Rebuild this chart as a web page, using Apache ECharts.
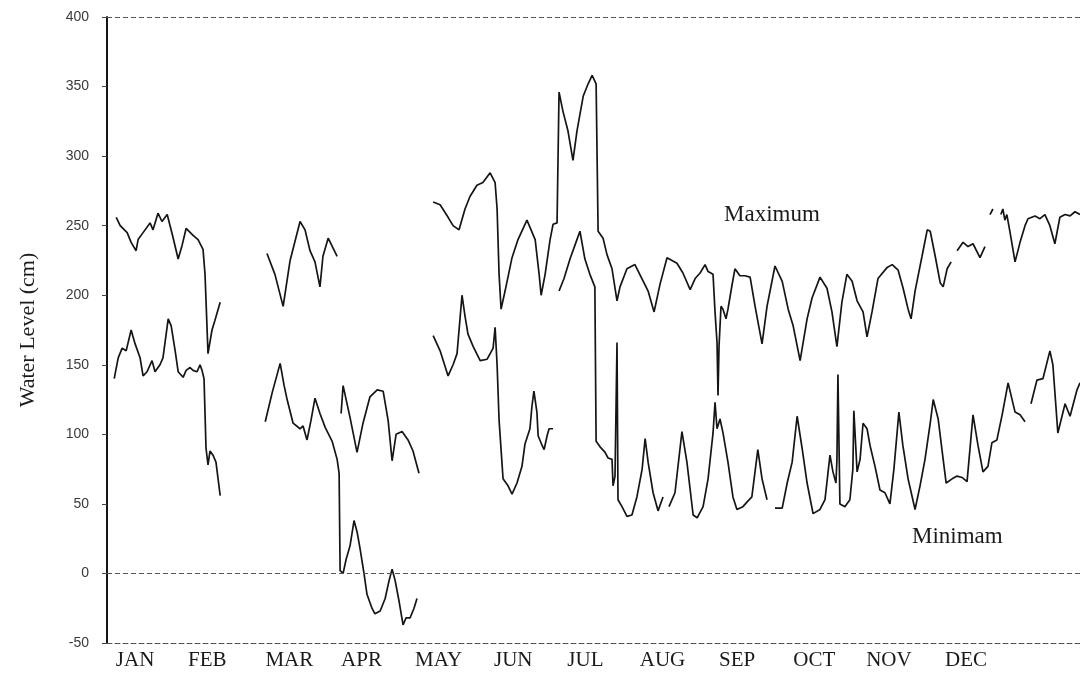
<!DOCTYPE html>
<html>
<head>
<meta charset="utf-8">
<script src="https://cdn.jsdelivr.net/npm/echarts@6/dist/echarts.min.js"></script>
<style>
html,body{margin:0;padding:0;background:#fff;}
#chart{width:1080px;height:680px;}
</style>
</head>
<body>
<div id="chart"></div>
<script>
// Month tick labels and the day-of-year at which each label sits
const monthLabels = ['JAN','FEB','MAR','APR','MAY','JUN','JUL','AUG','SEP','OCT','NOV','DEC'];
const monthTickDays = [15,44,77,106,137,167,196,227,257,288,318,349];
const yTicks = [-50,0,50,100,150,200,250,300,350,400];

// Daily maximum water level (cm): [day, cm], one array per unbroken run
const maxJanFeb = [[7.4,256],[9.0,250],[11.8,245],[13.4,238],[15.4,232],[16.2,240],[18.2,245],[21.0,252],[22.2,247],[24.2,259],[25.8,253],[27.9,258],[29.9,244],[32.3,226],[33.9,236],[35.5,248],[38.3,243],[40.3,240],[42.3,233],[43.1,215],[44.3,158],[45.9,175],[47.1,182],[49.2,195]];
const maxMar = [[68.0,230],[71.2,215],[74.5,192],[77.3,225],[81.3,253],[83.3,247],[85.3,232],[87.3,224],[89.3,206],[90.5,228],[92.6,241],[96.2,228]];
const maxApr = [[97.8,115],[98.6,135],[101.4,112],[104.2,87],[106.6,108],[109.4,127],[112.3,132],[114.7,131],[116.7,110],[118.3,81],[119.9,100],[122.3,102],[124.7,96],[126.7,88],[129.1,72]];
const maxMayNov = [[134.8,267],[137.6,265],[140.8,256],[142.8,250],[145.2,247],[147.6,262],[149.6,271],[152.4,279],[154.8,281],[157.7,288],[159.7,281],[160.5,262],[161.3,215],[162.1,190],[163.7,203],[166.5,227],[168.9,240],[172.5,254],[175.8,240],[177.4,215],[178.2,200],[179.8,215],[181.8,240],[183.0,251],[184.6,252],[185.4,346],[187.0,332],[189.0,318],[191.0,297],[192.6,318],[195.1,343],[197.1,352],[198.7,358],[200.3,352],[201.1,246],[203.1,241],[204.7,229],[206.7,219],[208.7,196],[209.9,206],[212.7,219],[215.9,222],[218.7,212],[221.2,203],[223.6,188],[226.0,208],[228.8,227],[230.8,225],[232.8,223],[235.2,216],[238.1,204],[240.1,212],[242.1,216],[244.1,222],[245.3,217],[247.3,215],[248.1,188],[248.9,166],[249.3,128],[249.7,163],[250.5,192],[251.3,190],[252.5,183],[253.3,190],[254.9,207],[256.1,219],[258.1,214],[260.1,214],[262.2,213],[264.2,192],[267.0,165],[269.0,192],[272.2,221],[275.1,210],[277.5,190],[279.5,178],[282.3,153],[285.1,183],[287.1,198],[290.3,213],[293.1,205],[295.1,188],[297.1,163],[299.1,195],[301.1,215],[303.2,210],[305.2,196],[307.6,188],[309.2,170],[311.2,188],[313.6,212],[317.3,220],[319.3,222],[321.7,218],[323.7,205],[325.7,190],[326.9,183],[328.5,203],[331.3,228],[333.4,247],[334.6,246],[336.6,228],[338.6,209],[339.8,206],[341.4,219],[343.0,224]];
const maxNovDec = [[345.4,232],[347.8,238],[349.8,235],[351.8,237],[354.6,227],[356.6,235]];
const maxDecA = [[358.6,258],[359.8,262]];
const maxDecB = [[363.0,258],[363.8,262],[364.6,254],[365.4,258],[366.7,245],[368.7,224],[370.7,238],[372.7,250],[373.9,255],[376.7,257],[378.7,255],[380.7,258],[382.7,250],[384.7,237],[386.7,256],[388.8,258],[390.8,257],[392.8,260],[394.8,258]];

// Daily minimum water level (cm)
const minJanFeb = [[6.6,140],[8.2,155],[9.8,162],[11.4,160],[13.4,175],[15.0,165],[17.0,155],[18.2,142],[19.8,145],[21.8,153],[23.0,145],[25.0,150],[26.2,155],[28.3,183],[29.5,178],[31.1,160],[32.3,145],[34.3,141],[35.5,146],[37.1,148],[38.3,146],[39.9,145],[41.1,150],[41.9,146],[42.7,140],[43.5,90],[44.3,78],[45.1,88],[46.3,85],[47.5,80],[49.2,56]];
const minMarApr = [[67.3,109],[70.1,130],[73.3,151],[74.9,135],[76.1,125],[78.5,108],[81.3,104],[82.5,106],[84.1,96],[85.7,110],[87.3,126],[89.3,115],[91.4,105],[94.2,95],[96.2,82],[97.0,72],[97.4,2],[98.6,0],[99.8,10],[101.4,20],[103.0,38],[104.2,30],[105.4,18],[107.0,0],[108.2,-15],[110.2,-25],[111.4,-29],[113.5,-27],[115.5,-18],[117.1,-5],[118.3,3],[119.5,-5],[121.1,-20],[122.7,-37],[123.9,-32],[125.5,-32],[127.1,-25],[128.3,-18]];
const minMayJun = [[134.8,171],[137.6,160],[140.8,142],[142.8,150],[144.4,158],[146.4,200],[147.6,185],[148.8,172],[150.9,163],[153.7,153],[156.5,154],[158.9,162],[159.7,177],[160.5,150],[161.3,110],[162.9,68],[164.9,63],[166.5,57],[168.5,65],[170.5,77],[171.7,93],[173.7,104],[174.5,120],[175.3,131],[176.5,116],[177.0,99],[178.6,92],[179.4,89],[180.6,99],[181.4,104],[183.0,104]];
const minJunAug = [[185.4,203],[187.4,212],[189.8,226],[192.2,238],[193.8,246],[195.8,226],[197.8,215],[199.8,206],[200.3,95],[201.9,91],[203.9,87],[205.1,83],[206.7,82],[207.1,63],[207.9,70],[208.7,166],[209.1,53],[210.7,48],[212.7,41],[214.7,42],[216.7,55],[218.8,75],[220.0,97],[221.2,80],[223.2,58],[225.2,45],[227.2,55]];
const minAugSep = [[229.6,48],[232.0,58],[234.8,102],[236.8,80],[239.3,42],[240.9,40],[243.3,48],[245.3,68],[247.3,101],[248.1,123],[248.9,104],[250.1,111],[251.3,101],[253.3,80],[255.3,55],[256.9,46],[259.3,48],[261.3,52],[262.9,55],[265.3,89],[267.0,68],[269.0,53]];
const minSepDec = [[272.2,47],[275.1,47],[277.1,65],[279.1,80],[281.1,113],[283.1,90],[285.1,65],[287.5,43],[290.3,46],[292.3,53],[294.3,85],[295.5,73],[296.7,65],[297.1,82],[297.5,143],[298.3,50],[300.3,48],[302.3,53],[303.5,75],[303.9,117],[305.2,73],[306.4,82],[307.6,108],[309.2,104],[310.4,92],[312.4,77],[314.4,60],[316.4,58],[318.4,50],[320.0,75],[322.0,116],[323.6,92],[325.7,68],[328.5,46],[330.5,63],[332.5,82],[334.6,108],[335.8,125],[337.8,111],[339.8,82],[341.0,65],[343.4,68],[345.4,70],[347.4,69],[349.4,66],[350.2,82],[351.8,114],[353.8,92],[355.8,73],[357.8,77],[359.4,94],[361.4,96],[363.5,114],[365.9,137],[368.7,116],[370.7,114],[372.7,109]];
const minDec = [[375.1,122],[377.5,139],[379.9,140],[382.7,160],[383.9,150],[385.9,101],[388.8,122],[390.8,113],[393.6,132],[394.8,137]];

function joinRuns(runs) {
  const out = [];
  runs.forEach((run, i) => {
    if (i > 0) out.push([(runs[i-1][runs[i-1].length-1][0] + run[0][0]) / 2, '-']);
    run.forEach(p => out.push(p));
  });
  return out;
}

const maxData = joinRuns([maxJanFeb, maxMar, maxApr, maxMayNov, maxNovDec, maxDecA, maxDecB]);
const minData = joinRuns([minJanFeb, minMarApr, minMayJun, minJunAug, minAugSep, minSepDec, minDec]);

const chart = echarts.init(document.getElementById('chart'), null, {renderer: 'canvas'});
const ink = '#151515';
const dashStyle = {color: '#555', width: 1, type: [5, 3]};

chart.setOption({
  backgroundColor: '#ffffff',
  animation: false,
  grid: {left: 107, right: 0, top: 17, bottom: 37, containLabel: false},
  xAxis: {
    type: 'value',
    min: 3.7,
    max: 394.8,
    axisLine: {show: true, onZero: false, lineStyle: dashStyle},
    axisTick: {show: false},
    splitLine: {show: false},
    axisLabel: {
      customValues: monthTickDays,
      showMinLabel: true,
      showMaxLabel: true,
      margin: 7,
      fontFamily: 'Liberation Serif',
      fontSize: 21,
      color: '#1a1a1a',
      formatter: function (v) {
        const i = monthTickDays.findIndex(d => Math.abs(d - v) < 0.01);
        return i >= 0 ? monthLabels[i] : '';
      }
    }
  },
  yAxis: {
    type: 'value',
    min: -50,
    max: 400,
    interval: 50,
    name: 'Water Level (cm)',
    nameLocation: 'middle',
    nameGap: 68,
    nameTextStyle: {fontFamily: 'Liberation Serif', fontSize: 22, color: '#1a1a1a'},
    axisLine: {show: true, lineStyle: {color: ink, width: 2}},
    axisTick: {show: true, length: 5, lineStyle: {color: '#444', width: 1}},
    splitLine: {show: false},
    axisLabel: {
      customValues: yTicks,
      margin: 18,
      fontFamily: 'Liberation Sans',
      fontSize: 14,
      color: '#3a3a3a'
    }
  },
  graphic: [
    {type: 'text', left: 724, top: 203, style: {text: 'Maximum', font: '23px "Liberation Serif"', fill: '#1a1a1a'}},
    {type: 'text', left: 912, top: 525, style: {text: 'Minimam', font: '23px "Liberation Serif"', fill: '#1a1a1a'}}
  ],
  series: [
    {
      name: 'Maximum',
      type: 'line',
      data: maxData,
      showSymbol: false,
      connectNulls: false,
      lineStyle: {color: ink, width: 1.7},
      silent: true,
      markLine: {
        silent: true,
        symbol: 'none',
        label: {show: false},
        lineStyle: dashStyle,
        data: [{yAxis: 0}, {yAxis: 400}]
      }
    },
    {
      name: 'Minimum',
      type: 'line',
      data: minData,
      showSymbol: false,
      connectNulls: false,
      lineStyle: {color: ink, width: 1.7},
      silent: true
    }
  ]
});
</script>
</body>
</html>
